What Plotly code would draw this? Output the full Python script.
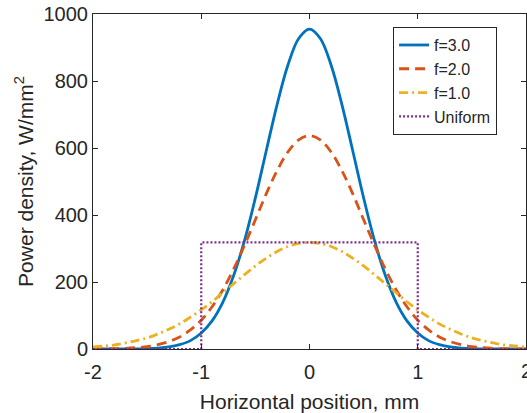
import plotly.graph_objects as go

x = [-2.0, -1.9, -1.8, -1.7, -1.6, -1.5, -1.4, -1.3, -1.2, -1.1, -1.0,
     -0.9, -0.8, -0.7, -0.6, -0.5, -0.4, -0.3, -0.2, -0.1, 0.0,
     0.1, 0.2, 0.3, 0.4, 0.5, 0.6, 0.7, 0.8, 0.9, 1.0,
     1.1, 1.2, 1.3, 1.4, 1.5, 1.6, 1.7, 1.8, 1.9, 2.0]

f3 = [0, 0, 0, 0.1, 0.5, 1.1, 2.7, 6, 13, 25, 48,
      84, 140, 220, 324, 451, 591, 729, 847, 927, 955,
      927, 847, 729, 591, 451, 324, 220, 140, 84, 48,
      25, 13, 6, 2.7, 1.1, 0.5, 0.1, 0, 0, 0]

f2 = [0.2, 0.5, 1, 2, 4, 7, 13, 22, 36, 57, 86,
      126, 177, 239, 310, 386, 463, 532, 588, 624, 637,
      624, 588, 532, 463, 386, 310, 239, 177, 126, 86,
      57, 36, 22, 13, 7, 4, 2, 1, 0.5, 0.2]

f1 = [6, 9, 12, 18, 25, 33, 45, 59, 75, 95, 117,
      141, 168, 195, 222, 248, 271, 291, 306, 315, 318,
      315, 306, 291, 271, 248, 222, 195, 168, 141, 117,
      95, 75, 59, 45, 33, 25, 18, 12, 9, 6]

ux = [-2, -1, -1, 1, 1, 2]
uy = [0, 0, 318, 318, 0, 0]

xticks = [-2, -1, 0, 1]
xticklabels = ["-2", "-1", "0", "1"]
xlast_tick = 2
xlast_label = "2"
yticks = [0, 200, 400, 600, 800, 1000]
yticklabels = ["0", "200", "400", "600", "800", "1000"]

FONT = "Liberation Sans, Arial, sans-serif"
INK = "#262626"

fig = go.Figure()
fig.add_trace(go.Scatter(x=x, y=f3, mode="lines", name="f=3.0",
                         line=dict(color="#0072BD", width=2.8, shape="spline")))
fig.add_trace(go.Scatter(x=x, y=f2, mode="lines", name="f=2.0",
                         line=dict(color="#D95319", width=2.8, shape="spline", dash="10px,6px")))
fig.add_trace(go.Scatter(x=x, y=f1, mode="lines", name="f=1.0",
                         line=dict(color="#EDB120", width=2.8, shape="spline", dash="9px,4px,2px,4px")))
fig.add_trace(go.Scatter(x=ux, y=uy, mode="lines", name="Uniform",
                         line=dict(color="#7E2F8E", width=2.2, dash="2px,2px")))

axis_common = dict(showline=True, linecolor=INK, linewidth=1, mirror="ticks",
                   ticks="inside", ticklen=5, tickcolor=INK, showgrid=False,
                   zeroline=False, tickfont=dict(size=20, color=INK, family=FONT))

fig.add_annotation(x=xlast_tick, y=0, xref="x", yref="paper", text=xlast_label,
                   showarrow=False, xanchor="center", yanchor="top", yshift=-9,
                   font=dict(size=20, color=INK, family=FONT))

fig.update_layout(
    width=527, height=413,
    margin=dict(l=93, r=1, t=14, b=64),
    paper_bgcolor="white", plot_bgcolor="white",
    font=dict(family=FONT, color=INK, size=20),
    xaxis=dict(range=[-2, 2], tickvals=xticks, ticktext=xticklabels, ticklabelstandoff=5,
               title=dict(text="Horizontal position, mm", standoff=14,
                          font=dict(size=21, color=INK, family=FONT)),
               **axis_common),
    yaxis=dict(range=[0, 1000], tickvals=yticks, ticktext=yticklabels,
               title=dict(text="Power density, W/mm<sup>2</sup>", standoff=4,
                          font=dict(size=21, color=INK, family=FONT)),
               **axis_common),
    legend=dict(x=0.693, y=0.961, xanchor="left", yanchor="top",
                bgcolor="white", bordercolor=INK, borderwidth=1,
                font=dict(size=16, color=INK, family=FONT),
                tracegroupgap=0),
    showlegend=True,
)

fig.write_html("out.html", config={"displayModeBar": False},
               post_script="document.body.style.margin='0px';")
